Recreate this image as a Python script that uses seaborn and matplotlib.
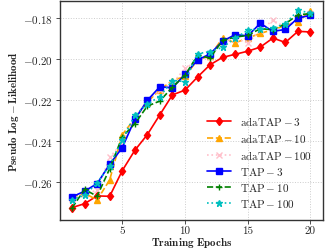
import numpy as np
import pandas as pd
import matplotlib
matplotlib.use("Agg")
import matplotlib.pyplot as plt
import seaborn as sns

epochs = list(range(1, 21))
ada_tap_3 = [-0.2725, -0.2706, -0.2668, -0.2670, -0.2545, -0.2446, -0.2369, -0.2272, -0.2175, -0.2152,
             -0.2088, -0.2028, -0.1992, -0.1977, -0.1962, -0.1942, -0.1898, -0.1919, -0.1865, -0.1868]
ada_tap_10 = [-0.2675, -0.2655, -0.2688, -0.2590, -0.2370, -0.2290, -0.2210, -0.2150, -0.2105, -0.2085,
              -0.2005, -0.1985, -0.1897, -0.1921, -0.1898, -0.1875, -0.1857, -0.1837, -0.1817, -0.1765]
ada_tap_100 = [-0.2685, -0.2660, -0.2640, -0.2480, -0.2410, -0.2290, -0.2200, -0.2150, -0.2120, -0.2045,
               -0.2010, -0.1990, -0.1915, -0.1900, -0.1922, -0.1860, -0.1811, -0.1845, -0.1800, -0.1780]
tap_3 = [-0.2673, -0.2645, -0.2608, -0.2514, -0.2433, -0.2295, -0.2202, -0.2135, -0.2141, -0.2075,
         -0.2005, -0.1975, -0.1913, -0.1881, -0.1887, -0.1826, -0.1865, -0.1856, -0.1800, -0.1787]
tap_10 = [-0.2727, -0.2636, -0.2670, -0.2535, -0.2380, -0.2316, -0.2230, -0.2205, -0.2137, -0.2080,
          -0.1982, -0.1995, -0.1909, -0.1893, -0.1885, -0.1852, -0.1857, -0.1828, -0.1784, -0.1779]
tap_100 = [-0.2686, -0.2665, -0.2605, -0.2520, -0.2394, -0.2275, -0.2220, -0.2183, -0.2105, -0.2110,
           -0.1974, -0.1964, -0.1943, -0.1898, -0.1860, -0.1852, -0.1849, -0.1828, -0.1763, -0.1775]

labels = [r"$\mathrm{adaTAP}-3$", r"$\mathrm{adaTAP}-10$", r"$\mathrm{adaTAP}-100$",
          r"$\mathrm{TAP}-3$", r"$\mathrm{TAP}-10$", r"$\mathrm{TAP}-100$"]
series = [ada_tap_3, ada_tap_10, ada_tap_100, tap_3, tap_10, tap_100]
colors = ["#ff0000", "#ffa500", "#ffc0cb", "#0000ff", "#008000", "#00bfbf"]
markers = ["d", "^", "x", "s", "+", "*"]
styles = ["-", "--", ":", "-", "--", ":"]
msizes = [4.5, 4.5, 4, 5, 5, 5]

sns.set_theme(style="whitegrid")
plt.rcParams["mathtext.fontset"] = "cm"
plt.rcParams["font.family"] = ["cmr10", "DejaVu Sans"]
plt.rcParams["axes.formatter.use_mathtext"] = True
plt.rcParams["axes.unicode_minus"] = True

fig = plt.figure(figsize=(3.32, 2.51), dpi=100)
ax = fig.add_axes([0.181, 0.120, 0.792, 0.872])

for vals, lab, c, m, ls, ms in zip(series, labels, colors, markers, styles, msizes):
    sns.lineplot(x=epochs, y=vals, ax=ax, color=c, marker=m, linestyle=ls, label=lab,
                 linewidth=1.2, markersize=ms, markeredgecolor=c, markeredgewidth=1.0)

ax.set_xlim(0.05, 21.0)
ax.set_ylim(-0.2785, -0.1717)
ax.set_xticks([5, 10, 15, 20])
ax.set_yticks([-0.26, -0.24, -0.22, -0.20, -0.18])
ax.yaxis.set_major_formatter(matplotlib.ticker.FuncFormatter(lambda v, p: r"$%.2f$" % v))
ax.set_xticklabels(["5", "10", "15", "20"])
ax.tick_params(axis="both", labelsize=8, length=3, width=0.6, color="#333333", direction="out",
               bottom=True, left=True)
ax.tick_params(axis="x", pad=1)
ax.tick_params(axis="y", pad=2)
ax.grid(True, linestyle=":", color="#cccccc", linewidth=0.7)
ax.set_facecolor("white")
for s in ax.spines.values():
    s.set_color("#333333")
    s.set_linewidth(1.0)

ax.set_xlabel(r"$\mathbf{Training\ Epochs}$", fontsize=8, labelpad=0)
ax.set_ylabel(r"$\mathbf{Pseudo\ Log-Likelihood}$", fontsize=8)
ax.yaxis.set_label_coords(-0.148, 0.5)

leg = ax.legend(loc="lower right", fontsize=8, frameon=False, handlelength=2.2,
                labelspacing=0.35, borderaxespad=0.6, handletextpad=0.8)

fig.savefig("out.png", dpi=100)
